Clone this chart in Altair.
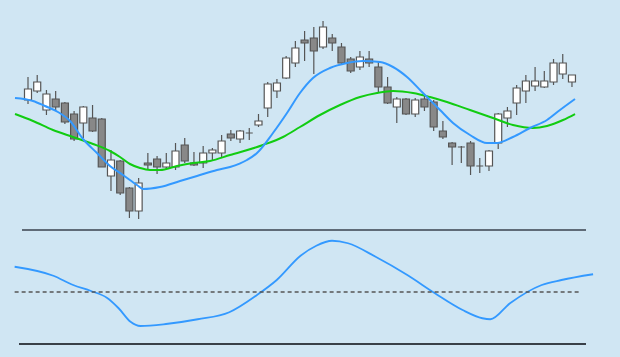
import altair as alt
import pandas as pd

# ---- candle data (index, open, high, low, close) ----
opens = [125.0, 127.25, 122.5, 125.25, 124.25, 121.5, 119.25, 120.5, 120.25, 106.0,
         109.75, 103.0, 97.25, 109.25, 110.25, 108.25, 108.25, 113.75, 109.25, 109.25,
         111.75, 111.75, 116.5, 115.25, 116.75, 118.75, 123.0, 127.25, 130.5, 134.25,
         140.0, 140.5, 138.25, 140.5, 138.25, 135.25, 133.25, 135.25, 133.25, 128.25,
         123.25, 125.25, 121.5, 125.25, 124.5, 117.25, 114.25, 113.25, 114.25, 108.5,
         108.5, 114.25, 120.5, 124.25, 127.25, 128.5, 128.25, 129.5, 131.5, 129.5]
highs = [130.75, 131.25, 127.5, 127.25, 124.5, 122.25, 123.5, 123.75, 120.5, 112.5,
         110.0, 103.25, 105.5, 111.75, 111.0, 111.75, 114.25, 115.5, 112.0, 113.5,
         113.0, 116.25, 117.5, 117.5, 118.0, 121.5, 129.5, 130.25, 136.0, 139.75,
         142.25, 143.25, 144.75, 141.5, 139.25, 135.75, 137.25, 137.25, 134.5, 130.75,
         125.75, 125.5, 125.5, 126.0, 125.0, 119.75, 114.5, 113.5, 114.75, 110.5,
         112.5, 121.75, 123.25, 128.75, 131.25, 133.25, 132.25, 135.25, 136.5, 131.25]
lows = [124.0, 126.75, 121.25, 122.25, 119.0, 114.75, 115.5, 117.0, 108.25, 102.25,
        101.25, 95.5, 95.25, 107.5, 106.5, 107.5, 107.5, 109.25, 108.5, 108.0,
        110.0, 110.75, 114.75, 114.25, 115.0, 118.25, 120.75, 125.5, 130.25, 133.25,
        134.75, 131.5, 137.75, 137.25, 134.0, 131.75, 132.5, 133.25, 127.0, 124.0,
        119.25, 121.25, 120.75, 122.25, 117.25, 115.25, 108.75, 109.25, 106.25, 106.75,
        107.25, 112.75, 118.25, 121.25, 124.25, 127.25, 128.0, 128.75, 130.25, 128.25]
closes = [127.75, 129.5, 126.5, 123.25, 119.5, 115.25, 123.25, 117.25, 108.25, 110.0,
          101.75, 97.25, 104.25, 108.75, 108.25, 109.25, 112.25, 109.75, 108.75, 111.75,
          112.5, 114.75, 115.5, 117.25, 116.75, 119.75, 129.0, 129.25, 135.5, 138.0,
          139.25, 137.25, 143.25, 139.25, 134.25, 132.25, 135.75, 134.25, 128.25, 124.25,
          125.25, 121.5, 125.0, 123.25, 118.25, 115.75, 113.25, 113.25, 108.5, 108.5,
          112.25, 121.5, 122.25, 128.0, 129.75, 129.75, 129.75, 134.25, 134.25, 131.25]

# ---- fast moving average (blue) ----
fast_x = [-1.41, 0.54, 1.84, 3.25, 4.56, 5.97, 7.48, 8.89, 10.30, 11.82, 12.47, 14.32,
          16.49, 18.33, 20.50, 21.91, 23.75, 24.84, 26.57, 28.09, 29.50, 30.91, 32.75,
          34.60, 36.33, 38.18, 39.59, 41.11, 42.84, 44.69, 46.10, 47.94, 49.78, 50.87,
          52.60, 54.45, 56.29, 57.70, 59.33]
fast_y = [125.5, 124.75, 123.5, 122.0, 119.75, 115.25, 111.75, 108.5, 106.25, 103.75,
          102.75, 103.25, 104.75, 106.0, 107.5, 108.25, 110.0, 111.75, 116.75, 121.75,
          126.75, 130.5, 133.0, 134.25, 134.75, 134.5, 133.25, 130.75, 126.75, 122.5,
          119.25, 116.25, 114.25, 114.25, 115.75, 118.0, 120.0, 122.5, 125.25]

# ---- slow moving average (green) ----
slow_x = [-1.41, 0.54, 2.71, 4.88, 7.05, 8.89, 9.98, 11.06, 12.15, 13.23, 14.32, 16.16,
          17.90, 19.74, 21.91, 25.49, 27.66, 29.50, 31.67, 33.84, 36.01, 37.85, 39.59,
          41.76, 43.60, 45.44, 47.94, 50.43, 52.60, 54.77, 56.29, 58.03, 59.33]
slow_y = [121.5, 119.75, 117.5, 115.75, 114.0, 112.25, 110.75, 109.0, 108.0, 107.5,
          107.5, 108.5, 109.25, 109.75, 111.25, 113.75, 115.75, 118.25, 121.25, 123.75,
          125.75, 126.75, 127.25, 126.75, 125.75, 124.5, 122.5, 120.5, 118.75, 118.0,
          118.5, 120.0, 121.5]

# ---- oscillator (lower panel) ----
osc_x = [-1.45, 2.75, 4.90, 6.83, 8.55, 9.83, 11.12, 12.19, 14.97, 18.41, 21.83, 24.84,
         26.98, 29.56, 31.27, 32.98, 34.71, 37.70, 41.14, 44.14, 47.14, 49.28, 50.14,
         52.28, 55.72, 57.86, 61.29]
osc_y = [70.2, 63.0, 55.6, 50.8, 45.4, 37.0, 26.2, 22.8, 24.4, 28.2, 33.8, 47.6,
         59.6, 79.0, 87.0, 91.0, 89.0, 78.2, 63.6, 49.0, 35.6, 29.0, 28.2,
         41.0, 55.6, 59.6, 64.2]
mid_level = [50, 50]
mid_x = [-1.45, 59.76]

candles = pd.DataFrame({
    "i": list(range(len(opens))),
    "open": opens, "high": highs, "low": lows, "close": closes,
})
candles["dir"] = ["up" if c >= o else "down" for o, c in zip(opens, closes)]
fast = pd.DataFrame({"x": fast_x, "v": fast_y})
slow = pd.DataFrame({"x": slow_x, "v": slow_y})
osc = pd.DataFrame({"x": osc_x, "v": osc_y})
mid = pd.DataFrame({"x": mid_x, "v": mid_level})

xs = alt.Scale(domain=[-3.037, 64.21], nice=False, zero=False, padding=0)
ps = alt.Scale(domain=[60.75, 150], nice=False, zero=False, padding=0)
os_ = alt.Scale(domain=[-2, 283.6], nice=False, zero=False, padding=0)

X = lambda f: alt.X(f, type="quantitative", scale=xs, axis=None)

wicks = alt.Chart(candles).mark_rule(color="#555555", strokeWidth=1.2).encode(
    x=X("i"),
    y=alt.Y("low:Q", scale=ps, axis=None),
    y2="high:Q",
)
bodies = alt.Chart(candles).mark_bar(size=7, stroke="#555555", strokeWidth=1.2).encode(
    x=X("i"),
    y=alt.Y("open:Q", scale=ps, axis=None),
    y2="close:Q",
    fill=alt.Fill("dir:N", scale=alt.Scale(domain=["up", "down"], range=["#ffffff", "#888888"]), legend=None),
)
fast_line = alt.Chart(fast).mark_line(color="#3399ff", strokeWidth=2, interpolate="monotone").encode(
    x=X("x"), y=alt.Y("v:Q", scale=ps, axis=None)
)
slow_line = alt.Chart(slow).mark_line(color="#11cc11", strokeWidth=2, interpolate="monotone").encode(
    x=X("x"), y=alt.Y("v:Q", scale=ps, axis=None)
)
osc_line = alt.Chart(osc).mark_line(color="#3399ff", strokeWidth=1.8, interpolate="monotone").encode(
    x=X("x"), y=alt.Y("v:Q", scale=os_, axis=None)
)
mid_line = alt.Chart(mid).mark_line(color="#555555", strokeWidth=1.3, strokeDash=[4, 3]).encode(
    x=X("x"), y=alt.Y("v:Q", scale=os_, axis=None)
)
top_base = alt.Chart(candles).mark_rule(color="#5f6b77", strokeWidth=1.5).encode(
    x=alt.value(22), x2=alt.value(586), y=alt.value(230)
)
bottom_base = alt.Chart(candles).mark_rule(color="#3a4048", strokeWidth=1.5).encode(
    x=alt.value(19), x2=alt.value(586), y=alt.value(344)
)

chart = alt.layer(
    wicks, bodies, slow_line, fast_line, osc_line, mid_line, top_base, bottom_base
).resolve_scale(y="independent").properties(
    width=620, height=357, autosize=alt.AutoSizeParams(type="none"), padding=0,
    background="#d0e6f3",
).configure_view(stroke=None)

chart.save("out.html", embed_options={"renderer": "svg", "actions": False})
